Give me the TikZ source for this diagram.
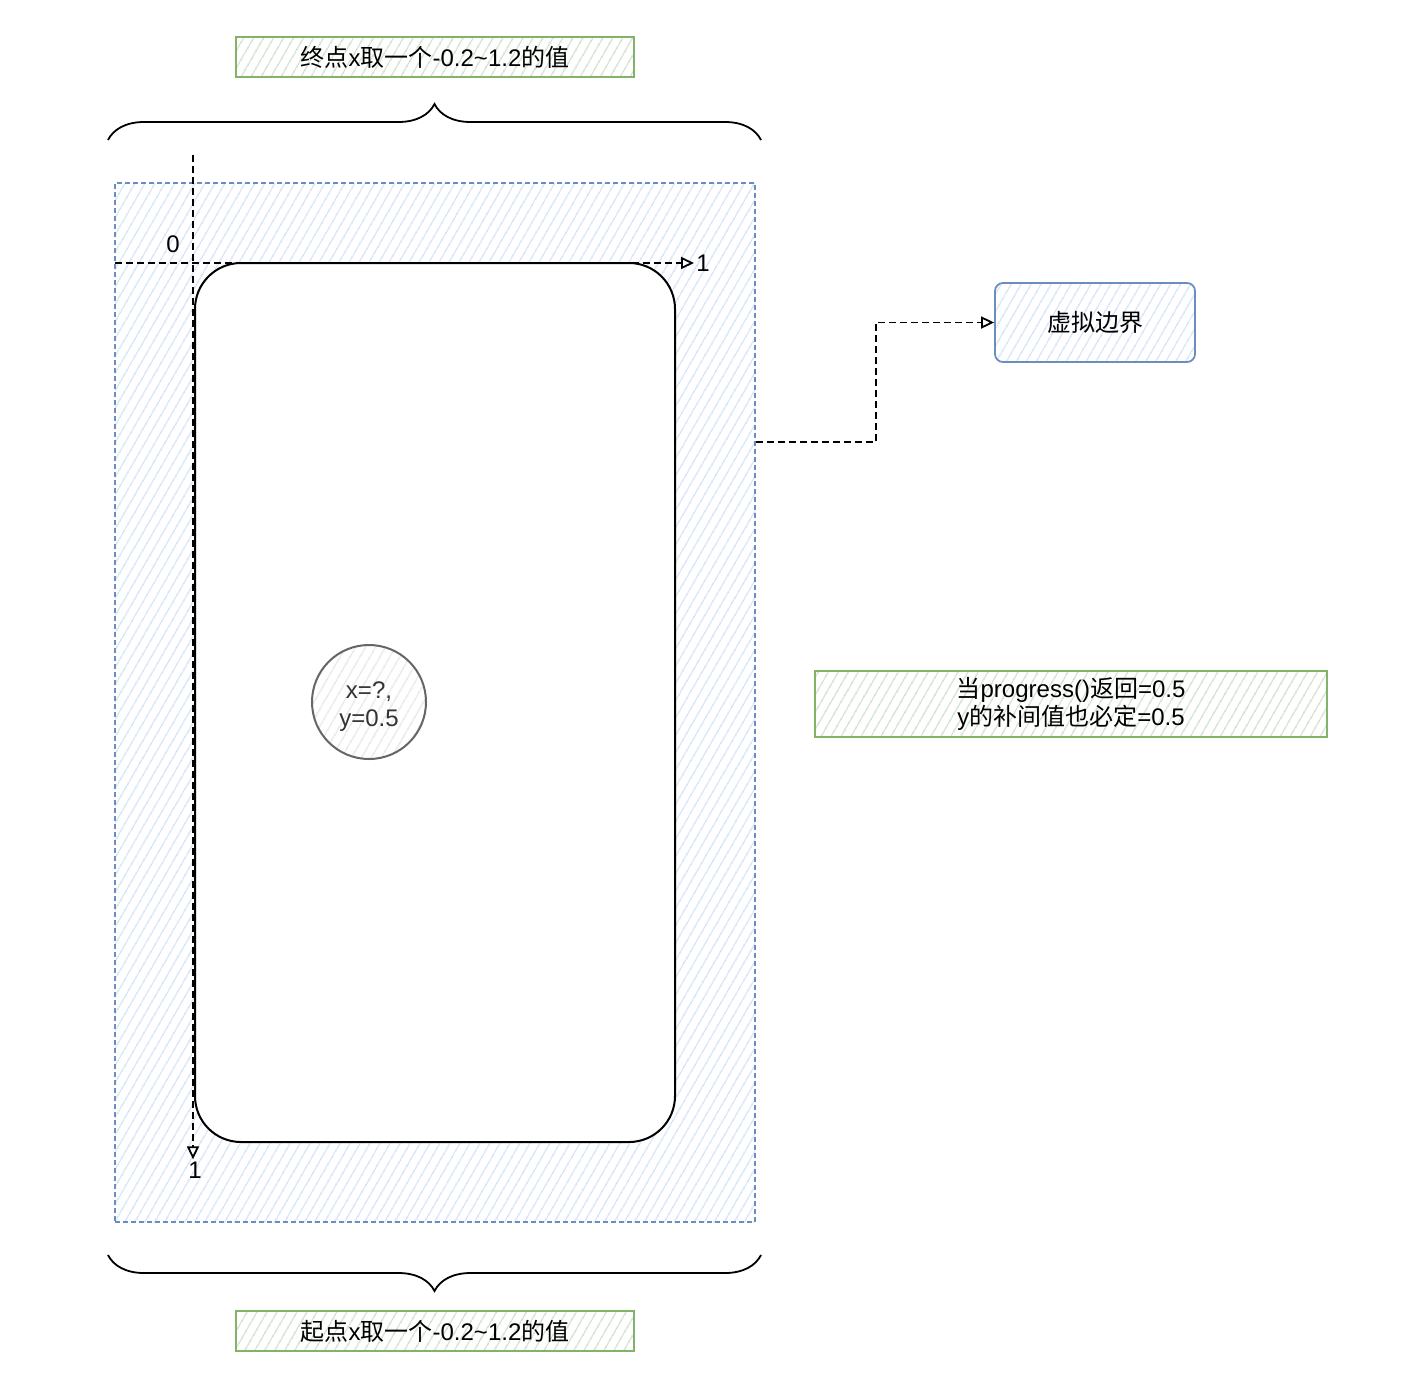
\documentclass[tikz,border=0pt]{standalone}
\usepackage{fontspec}
\setmainfont{Liberation Sans}
\newfontfamily\zhfont{Noto Sans CJK SC}
\newcommand{\zh}[1]{{\zhfont #1}}
\usetikzlibrary{arrows.meta,decorations.pathreplacing,patterns.meta}
\definecolor{greenfill}{HTML}{C9E0C7}
\definecolor{greenline}{HTML}{82B366}
\definecolor{bluefill}{HTML}{D0E1F8}
\definecolor{blueline}{HTML}{6C8EBF}
\definecolor{greyfill}{HTML}{E6E6E6}
\definecolor{greyline}{HTML}{666666}
\definecolor{greytext}{HTML}{333333}

\begin{document}
\begin{tikzpicture}[x=0.5pt, y=-0.5pt, font=\fontsize{12}{14}\selectfont,
    hatch/.style={pattern={Lines[angle=60,distance=4pt,line width=0.6pt]}, pattern color=#1},
    notebox/.style={draw=greenline, line width=0.9pt, hatch=greenfill, align=center, inner sep=0pt},
    bluebox/.style={draw=blueline, line width=0.9pt, hatch=bluefill, inner sep=0pt},
    link/.style={draw=black, line width=0.9pt, dash pattern=on 3.5pt off 2pt, -{Triangle[open, length=6.5pt, width=6pt]}},
    brace/.style={draw=black, line width=0.9pt, decorate, decoration={brace, amplitude=18pt}},
    tick/.style={inner sep=1pt}]
    \useasboundingbox (0,0) rectangle (1406,1392);

    % labels above and below
    \node[notebox, minimum width=199pt, minimum height=20pt] (topnote) at (435,57)
        {\zh{终点}x\zh{取一个}-0.2\textasciitilde1.2\zh{的值}};
    \node[notebox, minimum width=199pt, minimum height=20pt] (botnote) at (435,1331)
        {\zh{起点}x\zh{取一个}-0.2\textasciitilde1.2\zh{的值}};

    % braces
    \coordinate (tbl) at (108,140);
    \coordinate (tbr) at (761,140);
    \coordinate (bbl) at (108,1255);
    \coordinate (bbr) at (761,1255);
    \draw[brace] (tbl) -- (tbr);
    \draw[brace] (bbr) -- (bbl);

    % virtual bound and screen
    \node[bluebox, dash pattern=on 2.5pt off 1.5pt, minimum width=320pt, minimum height=519.5pt] (bound) at (435,702.5) {};
    \node[draw=black, line width=1pt, fill=white, rounded corners=23pt, minimum width=240pt, minimum height=439.5pt] (screen) at (435,702.5) {};

    % axes
    \coordinate (xstart) at (115,263);
    \coordinate (ystart) at (193,155);
    \node[tick] (zero) at (173,244) {0};
    \node[tick, anchor=west] (xone) at (694,263) {1};
    \node[tick] (yone) at (195,1170) {1};
    \draw[link] (xstart) -- (xone.west);
    \draw[link] (ystart) -- (ystart |- yone.north);

    % sample point
    \node[circle, draw=greyline, line width=1pt, hatch=greyfill, text=greytext, align=center, minimum size=57pt, inner sep=0pt] (dot) at (369,702)
        {\raisebox{-2.5pt}[\height][\depth]{\shortstack{x=?,\\[1pt]y=0.5}}};

    % legend
    \node[bluebox, rounded corners=4pt, minimum width=100pt, minimum height=39.5pt] (vb) at (1095,322.5) {\zh{虚拟边界}};
    \draw[link] ([yshift=130.25pt]bound.east) -- ++(120,0) |- (vb.west);

    \node[notebox, minimum width=256pt, minimum height=33pt] (note) at (1071,704)
        {\zh{当}progress()\zh{返回}=0.5\\y\zh{的补间值也必定}=0.5};
\end{tikzpicture}
\end{document}
